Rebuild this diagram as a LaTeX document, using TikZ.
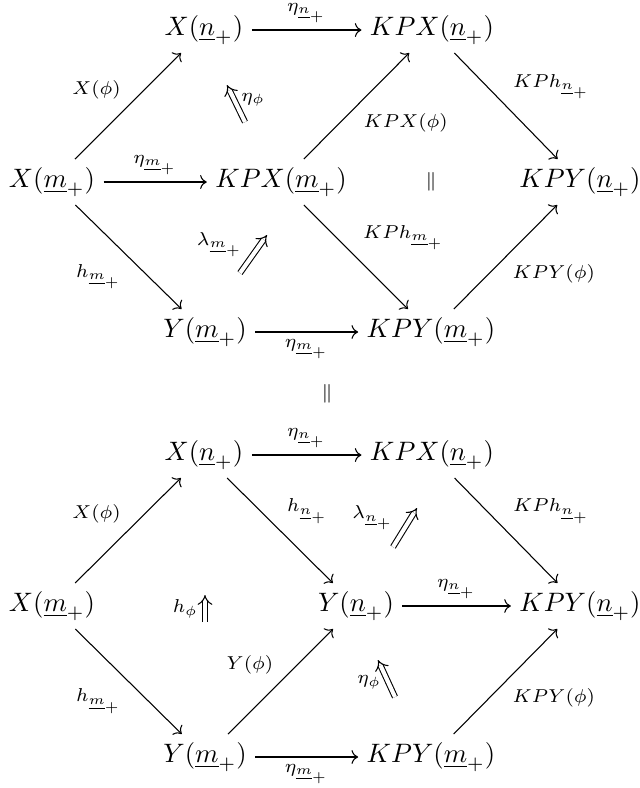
\documentclass[tikz,border=0pt]{standalone}
\usepackage{tikz}
\usetikzlibrary{arrows.meta}

\begin{document}
\begin{tikzpicture}[
    x=0.375pt, y=-0.375pt,
    obj/.style={inner sep=3pt},
    lbl/.style={font=\scriptsize, inner sep=2.5pt},
    eqsign/.style={font=\scriptsize},
    arrow/.style={->, >={Computer Modern Rightarrow}, line width=0.4pt},
    twocell/.style={double, double equal sign distance, -{Implies}, line width=0.4pt}
]
\useasboundingbox (0,0) rectangle (640,788);

% TOP SQUARE
\node[obj] (xn)   at (204,30)  {$X(\underline{n}_+)$};
\node[obj] (kpxn) at (432,30)  {$KPX(\underline{n}_+)$};
\node[obj] (xm)   at (52,182)  {$X(\underline{m}_+)$};
\node[obj] (kpxm) at (281,182) {$KPX(\underline{m}_+)$};
\node[obj] (kpyn) at (580,182) {$KPY(\underline{n}_+)$};
\node[obj] (ym)   at (205,332) {$Y(\underline{m}_+)$};
\node[obj] (kpym) at (431,332) {$KPY(\underline{m}_+)$};
\node[eqsign] (eqtop) at (431,182) {$\parallel$};

\draw[arrow] (xn) -- node[lbl, above] {$\eta_{\underline{n}_+}$} (kpxn);
\draw[arrow] (xm) -- node[lbl, above left] {$X(\phi)$} (xn);
\draw[arrow] (xm) -- node[lbl, above] {$\eta_{\underline{m}_+}$} (kpxm);
\draw[arrow] (xm) -- node[lbl, below left] {$h_{\underline{m}_+}$} (ym);
\draw[arrow] (kpxm) -- node[lbl, below right] {$KPX(\phi)$} (kpxn);
\draw[arrow] (kpxn) -- node[lbl, above right] {$KPh_{\underline{n}_+}$} (kpyn);
\draw[arrow] (kpxm) -- node[lbl, above right] {$KPh_{\underline{m}_+}$} (kpym);
\draw[arrow] (ym) -- node[lbl, below] {$\eta_{\underline{m}_+}$} (kpym);
\draw[arrow] (kpym) -- node[lbl, below right] {$KPY(\phi)$} (kpyn);

\coordinate (etaA) at (245,122);
\coordinate (etaB) at (227,85);
\coordinate (lamA) at (240,273);
\coordinate (lamB) at (267,235);
\draw[twocell] (etaA) -- node[lbl, right, pos=0.6] {$\eta_\phi$} (etaB);
\draw[twocell] (lamA) -- node[lbl, left=4pt, pos=0.75] {$\lambda_{\underline{m}_+}$} (lamB);

\node[eqsign] (eqmid) at (327,394) {$\parallel$};

% BOTTOM SQUARE
\node[obj] (bxn)   at (204,455) {$X(\underline{n}_+)$};
\node[obj] (bkpxn) at (432,455) {$KPX(\underline{n}_+)$};
\node[obj] (bxm)   at (52,606)  {$X(\underline{m}_+)$};
\node[obj] (byn)   at (356,606) {$Y(\underline{n}_+)$};
\node[obj] (bkpyn) at (580,606) {$KPY(\underline{n}_+)$};
\node[obj] (bym)   at (205,757) {$Y(\underline{m}_+)$};
\node[obj] (bkpym) at (431,757) {$KPY(\underline{m}_+)$};

\draw[arrow] (bxn) -- node[lbl, above] {$\eta_{\underline{n}_+}$} (bkpxn);
\draw[arrow] (bxm) -- node[lbl, above left] {$X(\phi)$} (bxn);
\draw[arrow] (bxn) -- node[lbl, above right] {$h_{\underline{n}_+}$} (byn);
\draw[arrow] (bxm) -- node[lbl, below left] {$h_{\underline{m}_+}$} (bym);
\draw[arrow] (bym) -- node[lbl, above left] {$Y(\phi)$} (byn);
\draw[arrow] (byn) -- node[lbl, above] {$\eta_{\underline{n}_+}$} (bkpyn);
\draw[arrow] (bkpxn) -- node[lbl, above right] {$KPh_{\underline{n}_+}$} (bkpyn);
\draw[arrow] (bym) -- node[lbl, below] {$\eta_{\underline{m}_+}$} (bkpym);
\draw[arrow] (bkpym) -- node[lbl, below right] {$KPY(\phi)$} (bkpyn);

\coordinate (blamA) at (393,547);
\coordinate (blamB) at (417,508);
\coordinate (hphiA) at (205,622);
\coordinate (hphiB) at (205,595);
\coordinate (betaA) at (395,697);
\coordinate (betaB) at (378,660);
\draw[twocell] (blamA) -- node[lbl, left=4pt, pos=0.75] {$\lambda_{\underline{n}_+}$} (blamB);
\draw[twocell] (hphiA) -- node[lbl, left] {$h_\phi$} (hphiB);
\draw[twocell] (betaA) -- node[lbl, left, pos=0.4] {$\eta_\phi$} (betaB);

\end{tikzpicture}
\end{document}
